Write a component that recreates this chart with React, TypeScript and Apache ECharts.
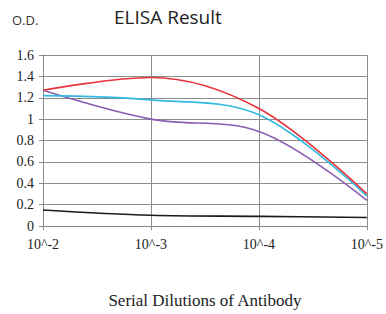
import React, { useEffect, useRef } from "react";
import * as echarts from "echarts";

const categories = ["10^-2", "10^-3", "10^-4", "10^-5"];
const redValues = [1.27, 1.39, 1.1, 0.3];
const cyanValues = [1.22, 1.18, 1.04, 0.28];
const purpleValues = [1.27, 1.0, 0.885, 0.24];
const blackValues = [0.15, 0.1, 0.09, 0.08];

export default function App() {
  const ref = useRef<HTMLDivElement>(null);
  useEffect(() => {
    if (!ref.current) return;
    const chart = echarts.init(ref.current, undefined, { renderer: "svg" });
    const serif = "'Liberation Serif', 'DejaVu Serif', serif";
    const sans = "'Open Sans', 'Liberation Sans', sans-serif";
    const mk = (name: string, data: number[], color: string) => ({
      name,
      type: "line",
      data,
      smooth: 0.35,
      showSymbol: false,
      symbol: "none",
      lineStyle: { color, width: 1.6 },
      itemStyle: { color },
    });
    chart.setOption({
      animation: false,
      backgroundColor: "#ffffff",
      title: [
        {
          text: "ELISA Result",
          left: 109,
          top: 2,
          textStyle: { fontFamily: sans, fontSize: 19, fontWeight: "normal", color: "#222" },
        },
        {
          text: "O.D.",
          left: 7,
          top: 8,
          textStyle: { fontFamily: sans, fontSize: 13, fontWeight: "normal", color: "#333" },
        },
      ],
      grid: { left: 43, right: 18, top: 55, bottom: 80, containLabel: false },
      xAxis: {
        type: "category",
        data: categories,
        boundaryGap: false,
        name: "Serial Dilutions of Antibody",
        nameLocation: "middle",
        nameGap: 66,
        nameTextStyle: { fontFamily: serif, fontSize: 17, color: "#222" },
        axisLine: { lineStyle: { color: "#888" } },
        axisTick: { show: true, length: 4, lineStyle: { color: "#888" } },
        axisLabel: { fontFamily: serif, fontSize: 14, color: "#222", margin: 11 },
        splitLine: { show: true, lineStyle: { color: "#8c8c8c", width: 1 } },
      },
      yAxis: {
        type: "value",
        min: 0,
        max: 1.6,
        interval: 0.2,
        axisLine: { show: true, lineStyle: { color: "#888" } },
        axisTick: { show: true, length: 4, lineStyle: { color: "#888" } },
        axisLabel: { fontFamily: serif, fontSize: 14, color: "#222", margin: 9 },
        splitLine: { show: true, lineStyle: { color: "#8c8c8c", width: 1 } },
      },
      series: [
        mk("black", blackValues, "#1a1a1a"),
        mk("purple", purpleValues, "#8a5db3"),
        mk("cyan", cyanValues, "#33b8e0"),
        mk("red", redValues, "#e8343c"),
      ],
    });
    return () => chart.dispose();
  }, []);
  return <div ref={ref} style={{ width: 386, height: 314, position: "absolute", left: 0, top: 0 }} />;
}
